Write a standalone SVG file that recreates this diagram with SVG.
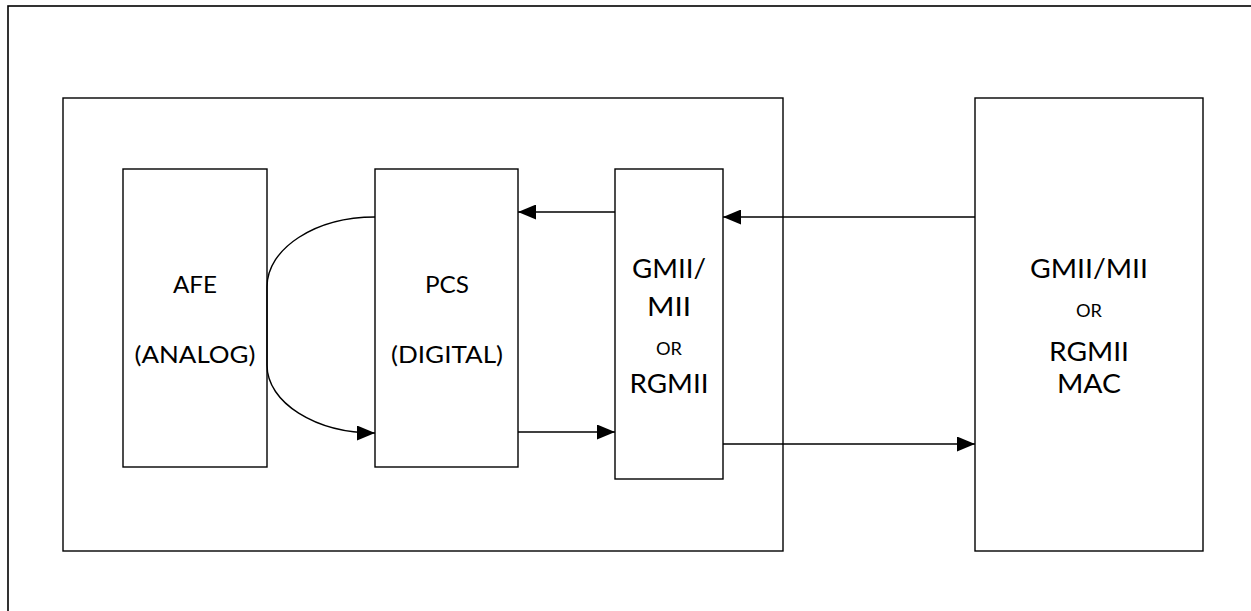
<svg xmlns="http://www.w3.org/2000/svg" width="1251" height="611" viewBox="0 0 1251 611">
  <style>
    .box { fill: #ffffff; stroke: #000000; stroke-width: 1.4; }
    .frame { fill: none; stroke: #000000; stroke-width: 1.6; }
    .conn { fill: none; stroke: #000000; stroke-width: 1.4; }
    .t { font-family: Lato, "Open Sans", "Liberation Sans", sans-serif; fill: #000000; text-anchor: middle; }
    .m { font-size: 24px; }
    .l { font-size: 26.5px; }
    .s { font-size: 16.5px; }
  </style>
  <defs>
    <marker id="arrow" markerUnits="userSpaceOnUse" markerWidth="18" markerHeight="15" refX="18" refY="7.5" orient="auto">
      <path d="M0,0 L18,7.5 L0,15 Z" fill="#000000"/>
    </marker>
  </defs>
  <rect width="1251" height="611" fill="#ffffff"/>
  <g id="frame">
    <rect class="frame" x="8" y="6" width="1300" height="700"/>
  </g>
  <g id="phy">
    <rect class="box" x="63" y="98" width="720" height="453"/>
  </g>
  <g id="afe">
    <rect class="box" x="123" y="169" width="144" height="298"/>
    <text class="t m" x="195" y="293" textLength="44" lengthAdjust="spacingAndGlyphs">AFE</text>
    <text class="t m" x="195" y="363" textLength="121" lengthAdjust="spacingAndGlyphs">(ANALOG)</text>
  </g>
  <g id="pcs">
    <rect class="box" x="375" y="169" width="143" height="298"/>
    <text class="t m" x="447" y="293" textLength="44" lengthAdjust="spacingAndGlyphs">PCS</text>
    <text class="t m" x="447" y="363" textLength="112" lengthAdjust="spacingAndGlyphs">(DIGITAL)</text>
  </g>
  <g id="gmii">
    <rect class="box" x="615" y="169" width="108" height="310"/>
    <text class="t l" x="669" y="278" textLength="74" lengthAdjust="spacingAndGlyphs">GMII/</text>
    <text class="t l" x="669" y="316" textLength="44" lengthAdjust="spacingAndGlyphs">MII</text>
    <text class="t s" x="669" y="355" textLength="26" lengthAdjust="spacingAndGlyphs">OR</text>
    <text class="t l" x="669" y="393" textLength="79" lengthAdjust="spacingAndGlyphs">RGMII</text>
  </g>
  <g id="mac">
    <rect class="box" x="975" y="98" width="228" height="453"/>
    <text class="t l" x="1089" y="278" textLength="118" lengthAdjust="spacingAndGlyphs">GMII/MII</text>
    <text class="t s" x="1089" y="317" textLength="26" lengthAdjust="spacingAndGlyphs">OR</text>
    <text class="t l" x="1089" y="361" textLength="80" lengthAdjust="spacingAndGlyphs">RGMII</text>
    <text class="t l" x="1089" y="393" textLength="64" lengthAdjust="spacingAndGlyphs">MAC</text>
  </g>
  <g id="connectors">
    <path class="conn" d="M375,217 C315.4,217 267,248.3 267,287 L267,365 C267,402.6 315.4,433 375,433" marker-end="url(#arrow)"/>
    <line class="conn" x1="615" y1="212" x2="518" y2="212" marker-end="url(#arrow)"/>
    <line class="conn" x1="518" y1="432" x2="615" y2="432" marker-end="url(#arrow)"/>
    <line class="conn" x1="975" y1="217" x2="723" y2="217" marker-end="url(#arrow)"/>
    <line class="conn" x1="723" y1="444" x2="975" y2="444" marker-end="url(#arrow)"/>
  </g>
</svg>
